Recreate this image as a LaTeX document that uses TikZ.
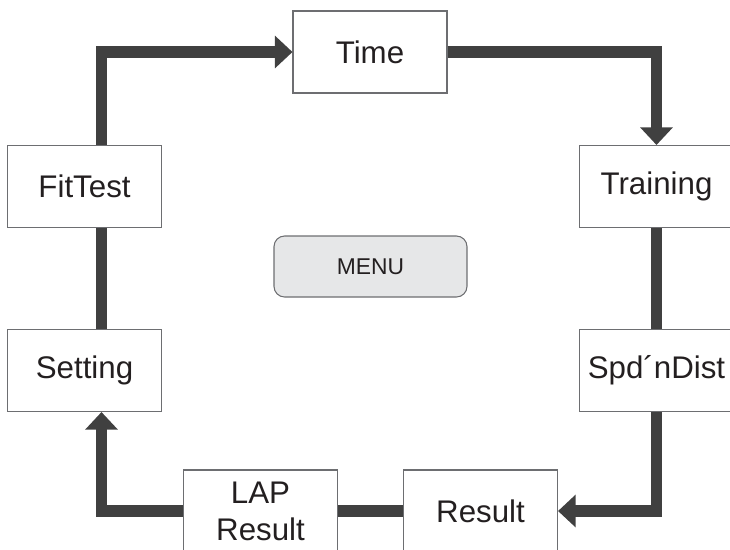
\documentclass[tikz,border=0pt]{standalone}
\usepackage{fontspec}
\setmainfont{Liberation Sans}
\usetikzlibrary{arrows.meta}
\definecolor{flowgray}{HTML}{404040}
\definecolor{boxgray}{HTML}{6D6E71}
\definecolor{menugray}{HTML}{E6E7E8}
\definecolor{txt}{HTML}{231F20}
\begin{document}
\begin{tikzpicture}[x=0.02cm, y=-0.02cm, >={Triangle[width=18pt,length=10pt]},
    box/.style={draw=boxgray, line width=0.6pt, minimum width=3.08cm, minimum height=1.64cm, inner sep=0pt, align=center, text=txt, font=\fontsize{17.8}{21}\selectfont},
    flow/.style={draw=flowgray, line width=6.6pt}]
    \useasboundingbox (0,0) rectangle (730,549);
    \clip (0,0) rectangle (730,549);
    % boxes of the loop
    \node[box] (time) at (370,52) {Time};
    \node[box] (training) at (656.5,186.5) {Training};
    \node[box] (spd) at (656.5,370.5) {Spd´nDist};
    \node[box] (result) at (480.5,511) {Result};
    \node[box] (lap) at (260.5,511) {LAP\\Result};
    \node[box] (setting) at (84.5,370.5) {Setting};
    \node[box] (fittest) at (84.5,186.5) {FitTest};
    \node[draw=boxgray, fill=menugray, line width=0.6pt, rounded corners=6pt, minimum width=3.86cm, minimum height=1.22cm, text=txt, font=\fontsize{13}{15}\selectfont] (menu) at (370.5,266.5) {MENU};
    \coordinate (leftbar) at (101.5,0);
    % connectors
    \draw[flow,->] (fittest.north -| leftbar) |- (time.west);
    \draw[flow,->] (time.east) -| (training.north);
    \draw[flow] (training.south) -- (spd.north);
    \draw[flow,->] (spd.south) |- (result.east);
    \draw[flow] (result.west) -- (lap.east);
    \draw[flow,->] (lap.west) -| (setting.south -| leftbar);
    \draw[flow] (setting.north -| leftbar) -- (fittest.south -| leftbar);
\end{tikzpicture}
\end{document}
